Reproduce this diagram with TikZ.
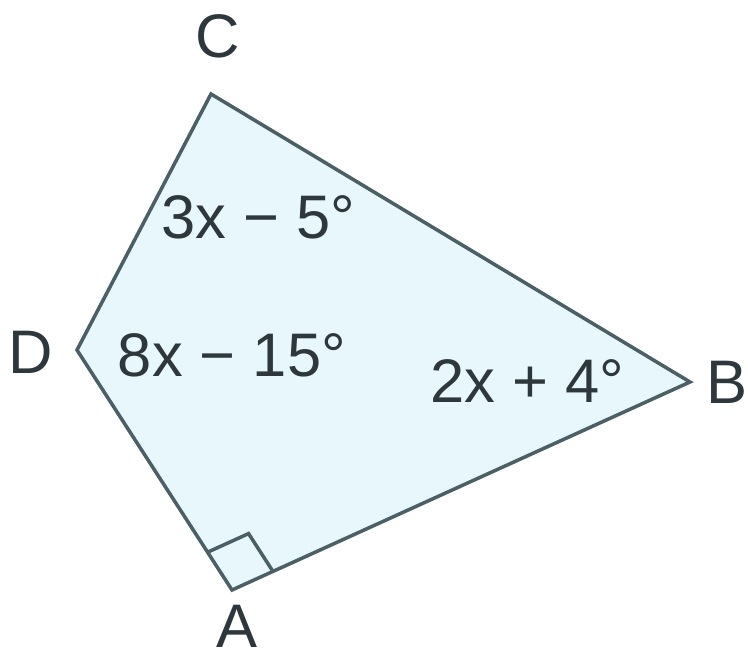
\documentclass[tikz,border=0pt]{standalone}
\usepackage{fontspec}
\setmainfont{Liberation Sans}
\usetikzlibrary{calc}
\definecolor{EdgeGray}{RGB}{75,95,100}
\definecolor{PaleCyan}{RGB}{232,247,251}
\definecolor{InkGray}{RGB}{45,55,60}

\begin{document}
\begin{tikzpicture}[x=0.02cm,y=-0.02cm, every node/.style={font=\fontsize{35}{38}\selectfont, text=InkGray, inner sep=0pt}]
  \useasboundingbox (0,0) rectangle (748,660);
  \coordinate (a) at (232,590);
  \coordinate (b) at (690,382);
  \coordinate (c) at (211,94);
  \coordinate (d) at (77,350);
  \fill[PaleCyan] (a) -- (b) -- (c) -- (d) -- cycle;
  \draw[EdgeGray, line width=2pt, line join=miter] (a) -- (b) -- (c) -- (d) -- cycle;
  % right angle mark at A
  \coordinate (ra1) at ($(a)!0.9cm!(d)$);
  \coordinate (ra2) at ($(a)!0.9cm!(b)$);
  \draw[EdgeGray, line width=2pt] (ra1) -- ($(ra1)+(ra2)-(a)$) -- (ra2);
  \node (labC) at (218,36) {C};
  \node (labD) at (31,352) {D};
  \node (labB) at (727,382) {B};
  \node (labA) at (237,626) {A};
  \node (angC) at (258,217) {3x − 5°};
  \node (angD) at (232,355) {8x − 15°};
  \node (angB) at (527,381) {2x + 4°};
\end{tikzpicture}
\end{document}
